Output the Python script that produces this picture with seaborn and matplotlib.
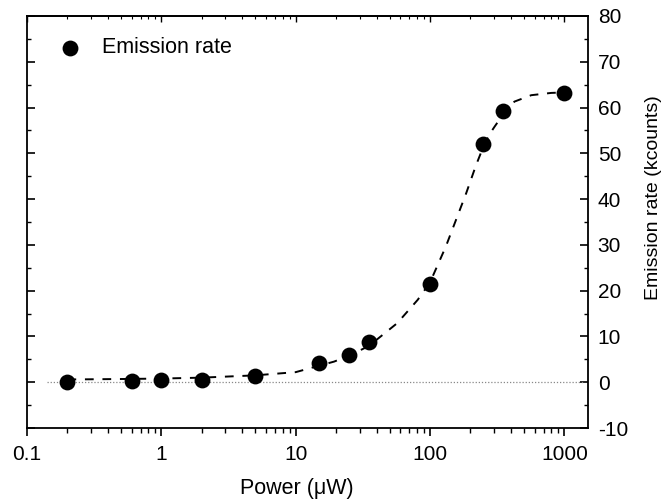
import matplotlib
matplotlib.use("Agg")
import matplotlib.pyplot as plt
import seaborn as sns
import pandas as pd
from matplotlib.ticker import MultipleLocator, LogLocator, NullFormatter, FixedLocator, FixedFormatter

# Data
power = [0.2, 0.6, 1, 2, 5, 15, 25, 35, 100, 250, 350, 1000]
emission = [0.0, 0.2, 0.4, 0.5, 1.4, 4.3, 6.0, 8.7, 21.5, 52.0, 59.2, 63.1]

fit_power = [0.2, 0.5, 1, 2, 5, 10, 19.3, 25, 35, 57, 81, 100, 131, 186, 220, 250, 275, 302, 350, 425, 567, 800, 1000]
fit_emission = [0.6, 0.7, 0.8, 1.0, 1.5, 2.2, 4.5, 5.8, 7.9, 12.9, 18.0, 21.8, 29.6, 41.3, 47.4, 51.5, 54.0, 55.8, 58.5, 61.3, 62.7, 63.2, 63.3]

zero_x = [0.14, 1400]
zero_y = [0, 0]

x_ticks = [0.1, 1, 10, 100, 1000]
x_tick_labels = ["0.1", "1", "10", "100", "1000"]
y_ticks = [-10, 0, 10, 20, 30, 40, 50, 60, 70, 80]

sns.set_style("ticks")
plt.rcParams["font.family"] = ["Liberation Sans", "DejaVu Sans"]
plt.rcParams["axes.linewidth"] = 1.3
plt.rcParams["axes.unicode_minus"] = False
for k in ["text.color", "axes.labelcolor", "xtick.color", "ytick.color", "axes.edgecolor"]:
    plt.rcParams[k] = "black"

fig = plt.figure(figsize=(6.66, 4.99), dpi=100)
ax = fig.add_axes([27 / 666, 1 - 428 / 499, (588 - 27) / 666, (428 - 16) / 499])

df_pts = pd.DataFrame({"power": power, "emission": emission})
df_fit = pd.DataFrame({"power": fit_power, "emission": fit_emission})

ax.plot(zero_x, zero_y, linestyle=(0, (1, 1.5)), color="#888888", lw=0.9, zorder=1)
sns.lineplot(data=df_fit, x="power", y="emission", ax=ax, color="black",
             linestyle=(0, (4.5, 4.5)), lw=1.4, zorder=2, sort=False)
sns.scatterplot(data=df_pts, x="power", y="emission", ax=ax, color="black",
                s=130, edgecolor="black", linewidth=0, zorder=3,
                label="Emission rate")

ax.set_xscale("log")
ax.set_xlim(0.1, 1500)
ax.set_ylim(-10, 80)

ax.xaxis.set_major_locator(FixedLocator(x_ticks))
ax.xaxis.set_major_formatter(FixedFormatter(x_tick_labels))
ax.xaxis.set_minor_locator(LogLocator(base=10, subs=range(2, 10), numticks=20))
ax.xaxis.set_minor_formatter(NullFormatter())
ax.tick_params(axis="x", which="major", direction="out", length=6, width=1.2,
               labelsize=15, pad=6)
ax.tick_params(axis="x", which="minor", direction="out", length=3.5, width=1.0)

ax.yaxis.set_major_locator(FixedLocator(y_ticks))
ax.yaxis.set_minor_locator(MultipleLocator(5))
ax.tick_params(axis="y", which="both", direction="in", left=True, right=True,
               labelleft=False, labelright=True)
ax.tick_params(axis="y", which="major", length=5.5, width=1.2, labelsize=15, pad=7)
ax.tick_params(axis="y", which="minor", length=3, width=1.0)

secx = ax.secondary_xaxis("top")
secx.xaxis.set_major_locator(FixedLocator(x_ticks))
secx.xaxis.set_minor_locator(LogLocator(base=10, subs=range(2, 10), numticks=20))
secx.xaxis.set_minor_formatter(NullFormatter())
secx.tick_params(axis="x", which="both", direction="in", labeltop=False)
secx.tick_params(axis="x", which="major", length=4, width=1.0)
secx.tick_params(axis="x", which="minor", length=2.5, width=0.8)
secx.spines["top"].set_linewidth(1.3)

ax.set_xlabel("Power (μW)", fontsize=15.5)
ax.xaxis.set_label_coords(0.481, -0.122)
ax.set_ylabel("Emission rate (kcounts)", fontsize=14)
ax.yaxis.set_label_position("right")
ax.yaxis.set_label_coords(1.102, 0.558)

for sp in ax.spines.values():
    sp.set_linewidth(1.3)
    sp.set_color("black")

leg = ax.legend(loc="upper left", frameon=False, fontsize=15.5,
                bbox_to_anchor=(0.003, 0.995), handletextpad=0.5, markerscale=1.0)

fig.savefig("out.png", dpi=100)
